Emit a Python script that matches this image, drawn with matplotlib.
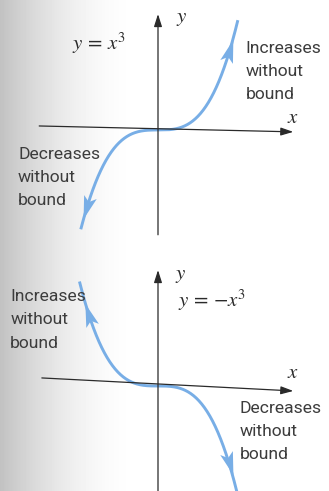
import numpy as np
import matplotlib
matplotlib.use("Agg")
import matplotlib.pyplot as plt
from matplotlib.path import Path
from matplotlib.markers import MarkerStyle
from matplotlib.transforms import Affine2D

plt.rcParams['mathtext.fontset'] = 'stix'

# curve extents and arrowhead positions (x values) for each panel
top_x_range = (-1.17, 1.21)
top_arrows = [(1.08, +1), (-1.07, -1)]      # (x, direction along x)
bot_x_range = (-1.19, 1.26)
bot_arrows = [(-1.04, -1), (1.07, +1)]

top_labels = ["Increases\nwithout\nbound", "Decreases\nwithout\nbound"]
bot_labels = ["Increases\nwithout\nbound", "Decreases\nwithout\nbound"]

blue = '#78aee6'
ink = '#2a2a2a'
txt = '#3c3c3c'

# pixel scale of one data unit
sx, sy = 66.0, 62.0

fig = plt.figure(figsize=(3.29, 4.91), dpi=100)

# grey shading down the left edge
bg = fig.add_axes([0, 0, 1, 1], zorder=-5)
xs = np.linspace(0, 329, 329)
s = np.clip(xs / 140.0, 0, 1)
shade = 1 - 0.24 * (1 - s) ** 1.8
bg.imshow(np.tile(shade, (10, 1)), cmap='gray', vmin=0, vmax=1,
          aspect='auto', extent=[0, 1, 0, 1])
bg.set_axis_off()

# arrowhead shape, pointing up
head = Path([(0, 1), (0.5, -0.75), (0, -0.35), (-0.5, -0.75), (0, 1)],
            [Path.MOVETO, Path.LINETO, Path.LINETO, Path.LINETO, Path.CLOSEPOLY])


def panel(rect, origin_px, height_px, sign, xr, arrows, xaxis, yaxis):
    ax = fig.add_axes(rect)
    ox, oy = origin_px
    ax.set_xlim(-ox / sx, (329 - ox) / sx)
    ax.set_ylim(-(height_px - oy) / sy, oy / sy)
    ax.set_axis_off()
    ax.patch.set_alpha(0)

    # axes lines with arrowheads
    ax.annotate('', xy=xaxis[1], xytext=xaxis[0],
                arrowprops=dict(arrowstyle='-|>,head_length=0.75,head_width=0.24',
                                color=ink, lw=0.9, shrinkA=0, shrinkB=0))
    ax.annotate('', xy=(0, yaxis[1]), xytext=(0, yaxis[0]),
                arrowprops=dict(arrowstyle='-|>,head_length=0.75,head_width=0.24',
                                color=ink, lw=0.9, shrinkA=0, shrinkB=0))

    x = np.linspace(xr[0], xr[1], 300)
    ax.plot(x, sign * x ** 3, color=blue, lw=2.1, solid_capstyle='butt',
            clip_on=False)

    for xa, d in arrows:
        ya = sign * xa ** 3
        dx, dy = d * sx, d * sign * 3 * xa ** 2 * sy
        ang = np.degrees(np.arctan2(dy, dx)) - 90
        m = MarkerStyle(head, transform=Affine2D().rotate_deg(ang))
        ax.plot([xa], [ya], marker=m, ms=19, color=blue, mec=blue, mew=0)
    return ax


lab_kw = dict(fontsize=12.6, family='Roboto', color=txt, va='top',
              linespacing=1.68)

# upper panel: y = x^3
ax1 = panel([0, 246 / 491, 1, 245 / 491], (158, 130), 245, 1,
            top_x_range, top_arrows,
            ((-1.80, 0.065), (2.05, -0.03)), (-1.69, 1.87))
ax1.text(-1.31, 1.40, r'$y\,=\,x^3$', fontsize=15, color=ink, va='center')
ax1.text(1.95, 0.21, r'$x$', fontsize=15, color=ink, va='center')
ax1.text(0.27, 1.81, r'$y$', fontsize=15, color=ink, va='center')
ax1.text(1.33, 1.44, top_labels[0], **lab_kw)
ax1.text(-2.12, -0.27, top_labels[1], **lab_kw)

# lower panel: y = -x^3
ax2 = panel([0, 0, 1, 246 / 491], (158, 141), 246, -1,
            bot_x_range, bot_arrows,
            ((-1.76, 0.13), (2.05, -0.08)), (-1.75, 1.87))
ax2.text(0.30, 1.39, r'$y\,=\,{-}x^3$', fontsize=15, color=ink, va='center')
ax2.text(1.95, 0.23, r'$x$', fontsize=15, color=ink, va='center')
ax2.text(0.25, 1.79, r'$y$', fontsize=15, color=ink, va='center')
ax2.text(-2.24, 1.56, bot_labels[0], **lab_kw)
ax2.text(1.24, -0.24, bot_labels[1], **lab_kw)

fig.savefig('out.png', dpi=100)
